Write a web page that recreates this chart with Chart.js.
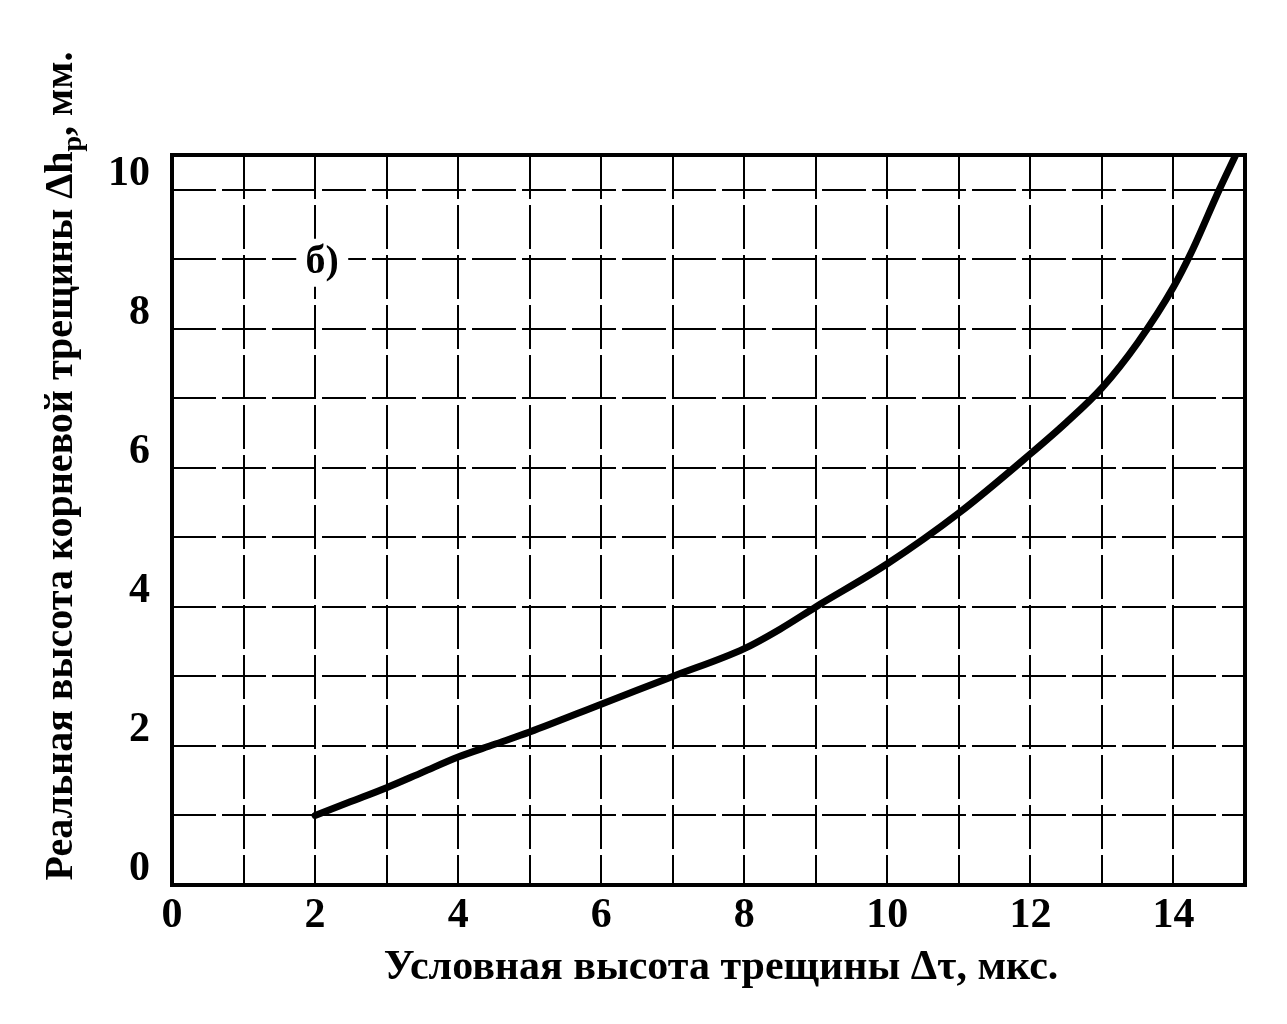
<!DOCTYPE html>
<html lang="ru">
<head>
  <meta charset="UTF-8" />
  <title>Реальная высота корневой трещины</title>
  <script src="https://cdn.jsdelivr.net/npm/chart.js@4.4.0/dist/chart.umd.min.js"></script>
  <style>
    body { margin: 0; background: #fff; overflow: hidden; }
    #wrap { width: 1287px; height: 1024px; }
  </style>
</head>
<body>
  <div id="wrap"><canvas id="chart" width="1287" height="1024"></canvas></div>
  <script>
    // curve
    const dtValues = [2, 2.5, 3, 3.5, 4, 4.5, 5, 6, 7, 8, 8.5, 9, 10, 11, 12, 12.5, 13, 13.5, 14, 14.25, 14.64, 14.87];
    const dhValues = [1.0, 1.2, 1.4, 1.62, 1.84, 2.02, 2.2, 2.6, 3.0, 3.4, 3.68, 4.0, 4.62, 5.35, 6.2, 6.65, 7.15, 7.8, 8.6, 9.1, 10.0, 10.5];

    const xTickLabels = [0, 2, 4, 6, 8, 10, 12, 14];
    const yTickLabels = [0, 2, 4, 6, 8, 10];

    const xTitle = 'Условная высота трещины Δτ, мкс.';
    const yTitle = 'Реальная высота корневой трещины Δh';
    const yTitleSub = 'р';
    const yTitleEnd = ', мм.';
    const panelLabel = 'б)';

    const serif = '"Liberation Serif", "DejaVu Serif", serif';

    const points = dtValues.map((x, i) => ({ x, y: dhValues[i] }));

    function integerTicks(scale) {
      const t = [];
      for (let v = 0; v <= Math.floor(scale.max); v++) t.push({ value: v });
      scale.ticks = t;
    }

    // white patch behind the panel label, drawn over the grid but under the curve
    const labelPatch = {
      id: 'labelPatch',
      beforeDatasetsDraw(chart) {
        const { ctx, scales } = chart;
        const cx = scales.x.getPixelForValue(2.1), cy = scales.y.getPixelForValue(8.95);
        ctx.save();
        ctx.fillStyle = '#fff';
        ctx.fillRect(cx - 26, cy - 24, 52, 48);
        ctx.restore();
      }
    };

    const frameAndText = {
      id: 'frameAndText',
      afterDraw(chart) {
        const { ctx, chartArea: a, scales } = chart;
        ctx.save();
        ctx.strokeStyle = '#000';
        ctx.lineWidth = 4;
        ctx.strokeRect(a.left, a.top, a.right - a.left, a.bottom - a.top);

        ctx.fillStyle = '#000';
        ctx.font = 'bold 42px ' + serif;
        ctx.textAlign = 'center';
        ctx.textBaseline = 'middle';
        ctx.fillText(xTitle, 721, 968);

        // rotated y title with subscript
        ctx.translate(62, 466);
        ctx.rotate(-Math.PI / 2);
        const big = 'bold 40px ' + serif, small = 'bold 28px ' + serif;
        ctx.font = big;
        const w1 = ctx.measureText(yTitle).width;
        ctx.font = small;
        const w2 = ctx.measureText(yTitleSub).width;
        ctx.font = big;
        const w3 = ctx.measureText(yTitleEnd).width;
        const x0 = -(w1 + w2 + w3) / 2;
        ctx.textAlign = 'left';
        ctx.fillText(yTitle, x0, 0);
        ctx.font = small;
        ctx.fillText(yTitleSub, x0 + w1, 12);
        ctx.font = big;
        ctx.fillText(yTitleEnd, x0 + w1 + w2, 0);
        ctx.restore();

        ctx.save();
        ctx.fillStyle = '#000';
        ctx.font = 'bold 40px ' + serif;
        ctx.textAlign = 'center';
        ctx.textBaseline = 'middle';
        ctx.fillText(panelLabel, scales.x.getPixelForValue(2.1), scales.y.getPixelForValue(8.95));
        ctx.restore();
      }
    };

    new Chart(document.getElementById('chart'), {
      type: 'scatter',
      data: {
        datasets: [{
          data: points,
          showLine: true,
          borderColor: '#000',
          borderWidth: 7,
          borderCapStyle: 'round',
          cubicInterpolationMode: 'monotone',
          pointRadius: 0
        }]
      },
      options: {
        responsive: false,
        animation: false,
        layout: { padding: { top: 155, right: 42, left: 0, bottom: 0 } },
        plugins: { legend: { display: false }, tooltip: { enabled: false } },
        scales: {
          x: {
            type: 'linear',
            min: 0, max: 15,
            afterFit(s) { s.height = 139; },
            afterBuildTicks: integerTicks,
            grid: { color: '#000', lineWidth: 2, drawTicks: false },
            border: { display: false, dash: [44, 6] },
            ticks: {
              autoSkip: false,
              maxRotation: 0,
              padding: 6,
              color: '#000',
              font: { family: serif, size: 42, weight: 'bold' },
              callback: v => xTickLabels.includes(v) ? String(v) : ''
            }
          },
          y: {
            type: 'linear',
            min: 0, max: 10.5,
            afterFit(s) { s.width = 172; },
            afterBuildTicks: integerTicks,
            grid: { color: '#000', lineWidth: 2, drawTicks: false },
            border: { display: false, dash: [44, 6] },
            ticks: {
              autoSkip: false,
              padding: 22,
              labelOffset: -16,
              color: '#000',
              font: { family: serif, size: 42, weight: 'bold' },
              callback: v => yTickLabels.includes(v) ? String(v) : ''
            }
          }
        }
      },
      plugins: [labelPatch, frameAndText]
    });
  </script>
</body>
</html>
